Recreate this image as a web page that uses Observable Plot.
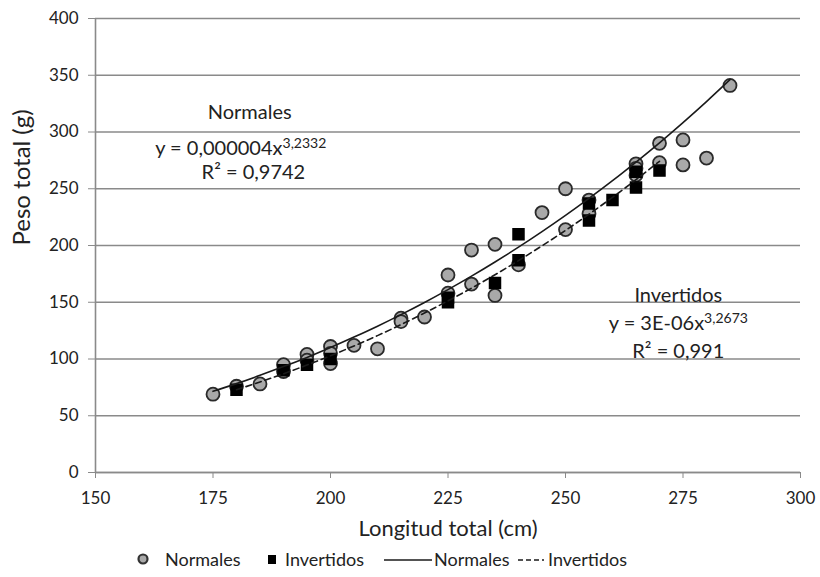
<!DOCTYPE html>
<html><head><meta charset="utf-8">
<script src="https://cdn.jsdelivr.net/npm/d3@7"></script>
<script src="https://cdn.jsdelivr.net/npm/@observablehq/plot@0.6"></script>
<style>
body{margin:0;background:#fff;font-family:Lato,"Open Sans",sans-serif;}
#legend{position:relative;font-size:18px;color:#222;height:30px;margin-top:6px;}
#legend > span{display:inline-flex;align-items:center;}
</style></head><body>
<div id="chart"></div>
<div id="legend"></div>
<script>
// Scatter data: Normales (circles)
const normX = [175,180,185,190,190,195,195,200,200,200,205,210,215,215,220,225,225,230,230,235,235,240,245,250,250,255,255,265,265,265,270,270,275,275,280,285];
const normY = [69,76,78,95,89,104,99,111,105,96,112,109,136,133,137,174,158,196,166,201,156,183,229,250,214,240,228,272,268,262,290,273,293,271,277,341];
// Scatter data: Invertidos (squares)
const invX = [180,190,195,200,225,225,235,240,240,255,255,260,265,265,270];
const invY = [73,90,95,100,150,154,167,210,187,237,222,240,251,265,266];
// Trend lines
const trendNormX = [175,180,185,190,195,200,205,210,215,220,225,230,235,240,245,250,255,260,265,270,275,280,285];
const trendNormY = [71.5,78.3,85.6,93.3,101.4,110.1,119.3,128.9,139.1,149.8,161.1,173.0,185.5,198.5,212.2,226.5,241.5,257.1,273.5,290.5,308.3,326.8,346.1];
const trendInvX = [180,185,190,195,200,205,210,215,220,225,230,235,240,245,250,255,260,265,270];
const trendInvY = [72.9,79.8,87.0,94.7,102.9,111.5,120.6,130.3,140.5,151.2,162.4,174.2,186.7,199.7,213.3,227.6,242.4,258.0,274.2];
// Axis ticks
const xTicks = [150,175,200,225,250,275,300];
const yTicks = [0,50,100,150,200,250,300,350,400];
// Annotations
const annText = ["Normales","y = 0,000004x^3,2332","R² = 0,9742","Invertidos","y = 3E-06x^3,2673","R² = 0,991"];
const annX = [182.8,180.9,183.6,274,274,274];
const annY = [317,285.5,264,156,131,106.6];

const norm = normX.map((x,i)=>({x,y:normY[i]}));
const inv = invX.map((x,i)=>({x,y:invY[i]}));
const tN = trendNormX.map((x,i)=>({x,y:trendNormY[i]}));
const tI = trendInvX.map((x,i)=>({x,y:trendInvY[i]}));
const ann = annText.map((t,i)=>({t,x:annX[i],y:annY[i]}));

const plot = Plot.plot({
  width: 820, height: 542,
  marginLeft: 95, marginRight: 20, marginTop: 18, marginBottom: 70,
  style:{fontFamily:'Lato,"Open Sans",sans-serif', fontSize:"17px", color:"#222", background:"#fff"},
  x:{domain:[150,300], ticks:xTicks},
  y:{domain:[0,400], ticks:yTicks},
  marks:[
    Plot.gridY(yTicks,{stroke:"#8a8a8a", strokeOpacity:1, strokeWidth:1.6}),
    Plot.ruleX([150],{stroke:"#8a8a8a", strokeWidth:1.6}),
    Plot.ruleY([0],{stroke:"#8a8a8a", strokeWidth:1.6}),
    Plot.axisY(yTicks,{tickSize:7, tickPadding:10, stroke:"#8a8a8a", label:null, fontSize:17, fill:"#222"}),
    Plot.axisX(xTicks,{tickSize:6, tickPadding:13, stroke:"#8a8a8a", label:null, fontSize:17, fill:"#222"}),
    Plot.text(["Peso total (g)"],{frameAnchor:"left", dx:-73, rotate:-90, fontSize:24, fill:"#222"}),
    Plot.text(["Longitud total (cm)"],{frameAnchor:"bottom", dy:63, fontSize:22, fill:"#222"}),
    Plot.dot(norm,{x:"x",y:"y",r:6.5,fill:"#a9a9a9",stroke:"#2a2a2a",strokeWidth:1.8}),
    Plot.dot(inv,{x:"x",y:"y",symbol:"square",r:6.2,fill:"#000",stroke:"#000"}),
    Plot.line(tN,{x:"x",y:"y",curve:"natural",stroke:"#1a1a1a",strokeWidth:1.6}),
    Plot.line(tI,{x:"x",y:"y",curve:"natural",stroke:"#1a1a1a",strokeWidth:1.6,strokeDasharray:"6,4"}),
    Plot.text(ann,{x:"x",y:"y",text:"t",fontSize:20,fill:"#222",textAnchor:"middle"})
  ]
});
// superscripts
d3.select(plot).selectAll("text").each(function(){
  const t = this.textContent;
  if (t.includes("^")) {
    const [base, sup] = t.split("^");
    const sel = d3.select(this);
    sel.text(null);
    sel.append("tspan").text(base);
    sel.append("tspan").attr("dy","-0.5em").attr("font-size","14px").text(sup);
  }
});
document.getElementById("chart").appendChild(plot);

// Legend
const legendItems = [
  {label:"Normales", kind:"circle", left:136},
  {label:"Invertidos", kind:"square", left:266},
  {label:"Normales", kind:"solid", left:384},
  {label:"Invertidos", kind:"dashed", left:518}
];
const lg = document.getElementById("legend");
legendItems.forEach(it=>{
  const s = document.createElement("span");
  s.style.position="absolute"; s.style.left=it.left+"px"; s.style.top="0px";
  let icon="";
  if(it.kind==="circle") icon='<svg width="27" height="16"><circle cx="7" cy="8" r="4.5" fill="#a9a9a9" stroke="#333" stroke-width="2.2"/></svg>';
  if(it.kind==="square") icon='<svg width="17" height="16"><rect x="2" y="4" width="8" height="9" fill="#000"/></svg>';
  if(it.kind==="solid") icon='<svg width="48" height="16"><line x1="0" y1="9" x2="48" y2="9" stroke="#1a1a1a" stroke-width="1.6"/></svg>';
  if(it.kind==="dashed") icon='<svg width="28" height="16"><line x1="0" y1="9" x2="26" y2="9" stroke="#1a1a1a" stroke-width="1.6" stroke-dasharray="5,3"/></svg>';
  s.innerHTML = icon + '<span style="margin-left:2px">'+it.label+'</span>';
  lg.appendChild(s);
});
</script>
</body></html>
